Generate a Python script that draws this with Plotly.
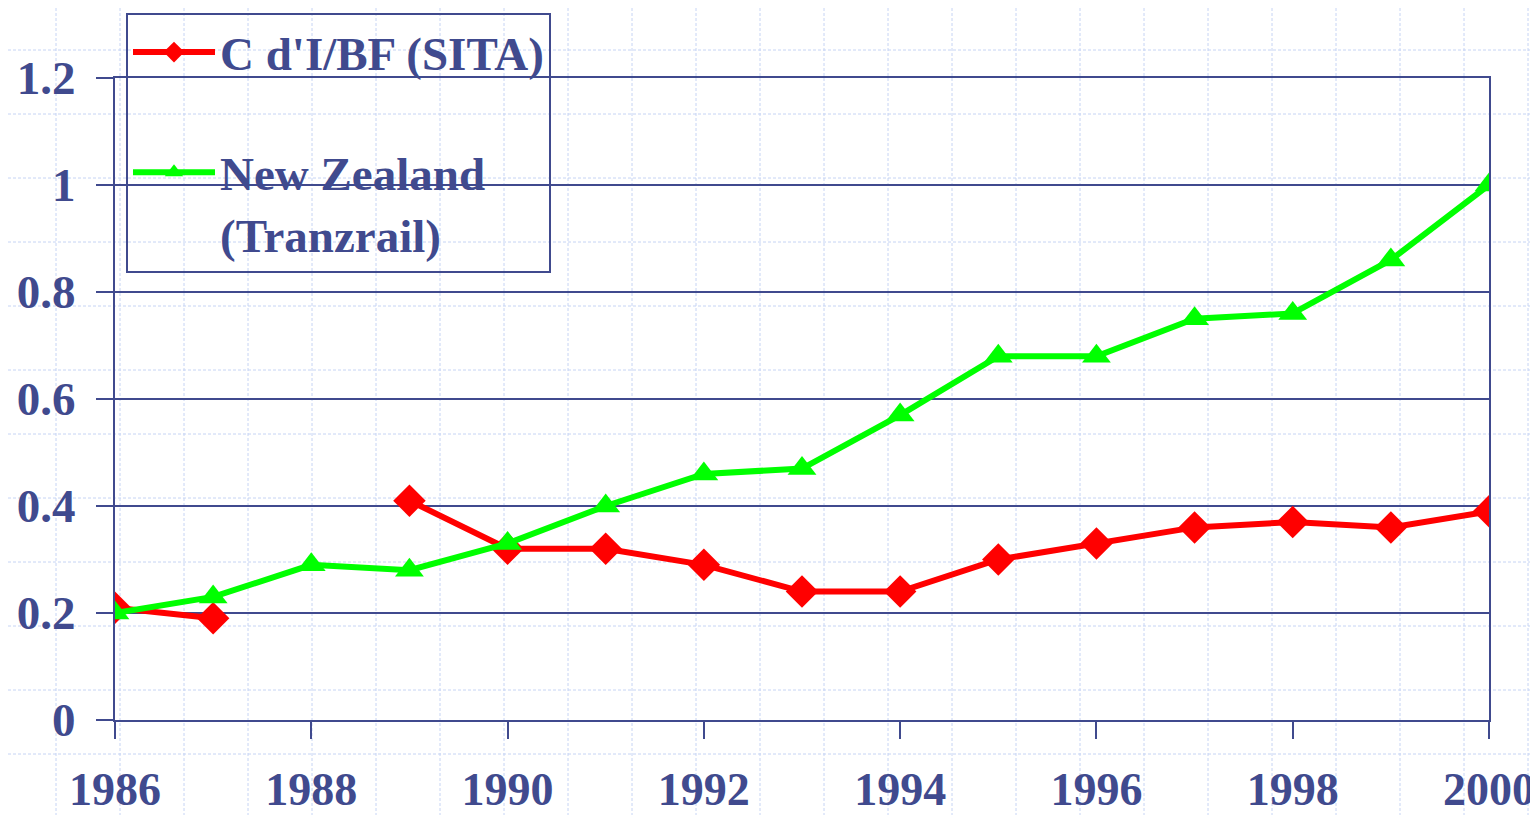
import plotly.graph_objects as go

years = list(range(1986, 2001))
sita = [0.21, 0.19, None, 0.41, 0.32, 0.32, 0.29, 0.24, 0.24, 0.30, 0.33, 0.36, 0.37, 0.36, 0.39]
tranz = [0.20, 0.23, 0.29, 0.28, 0.33, 0.40, 0.46, 0.47, 0.57, 0.68, 0.68, 0.75, 0.76, 0.86, 1.00]
series_names = ["C d'I/BF (SITA)", "New Zealand<br>(Tranzrail)"]
x_ticks = list(range(1986, 2001, 2))
y_ticks = [0, 0.2, 0.4, 0.6, 0.8, 1.0, 1.2]

# the page body adds an 8px offset; the figure is sized to fit the window
W, H = 1530, 807
ML, MR, MT, MB = 107, 49, 70, 95
PW, PH = W - ML - MR, H - MT - MB
NAVY = "#404A8E"
FONT = dict(family="Liberation Serif, Times New Roman, serif", size=47, color=NAVY, weight="bold")
XFONT = dict(family="Liberation Serif, Times New Roman, serif", size=46, color=NAVY, weight="bold")
LFONT = dict(family="Liberation Serif, Times New Roman, serif", size=47, color=NAVY, weight="bold")

fig = go.Figure()
fig.add_trace(go.Scatter(
    x=years, y=sita, name=series_names[0], mode="lines+markers",
    line=dict(color="#FF0000", width=6), connectgaps=False,
    marker=dict(symbol="diamond", size=25, color="#FF0000"),
    legendgroup="a"))
fig.add_trace(go.Scatter(
    x=years, y=tranz, name=series_names[1], mode="lines+markers",
    line=dict(color="#00FF00", width=6),
    marker=dict(symbol="triangle-up", size=25, color="#00FF00"),
    legendgroup="b"))

# decorative dotted background grid of the slide
shapes = []
def px2x(p):
    return (p - ML) / PW
def py2y(p):
    return (H - MB - p) / PH
gx = 48
while gx < W:
    shapes.append(dict(type="line", xref="paper", yref="paper", x0=px2x(gx), x1=px2x(gx),
                       y0=py2y(0), y1=py2y(H), line=dict(color="#C6D4F4", width=1, dash="3px,2px"),
                       layer="below"))
    gx += 64
gy = 42
while gy < H:
    shapes.append(dict(type="line", xref="paper", yref="paper", x0=px2x(0), x1=px2x(W),
                       y0=py2y(gy), y1=py2y(gy), line=dict(color="#C6D4F4", width=1, dash="3px,2px"),
                       layer="below"))
    gy += 64

fig.update_layout(
    width=W, height=H,
    margin=dict(l=ML, r=MR, t=MT, b=MB, autoexpand=False),
    paper_bgcolor="white", plot_bgcolor="rgba(0,0,0,0)",
    font=FONT,
    shapes=shapes,
    showlegend=True,
    legend=dict(
        x=px2x(118), y=py2y(5), xanchor="left", yanchor="top",
        bgcolor="rgba(0,0,0,0)", bordercolor=NAVY, borderwidth=2,
        font=LFONT, valign="top", tracegroupgap=56, traceorder="grouped",
        itemwidth=82),
    xaxis=dict(
        range=[1986, 2000], tickvals=x_ticks, showgrid=False, automargin=False,
        showline=True, linecolor=NAVY, linewidth=2, mirror=True,
        ticks="outside", ticklen=17, tickwidth=2, tickcolor=NAVY,
        zeroline=False, ticklabelstandoff=11, tickfont=XFONT),
    yaxis=dict(
        range=[0, 1.2], tickvals=y_ticks, showgrid=True, gridcolor=NAVY, gridwidth=2,
        showline=True, linecolor=NAVY, linewidth=2, mirror=True, automargin=False,
        ticks="outside", ticklen=17, tickwidth=2, tickcolor=NAVY,
        zeroline=False, ticklabelstandoff=11),
)

fig.write_html("out.html")
